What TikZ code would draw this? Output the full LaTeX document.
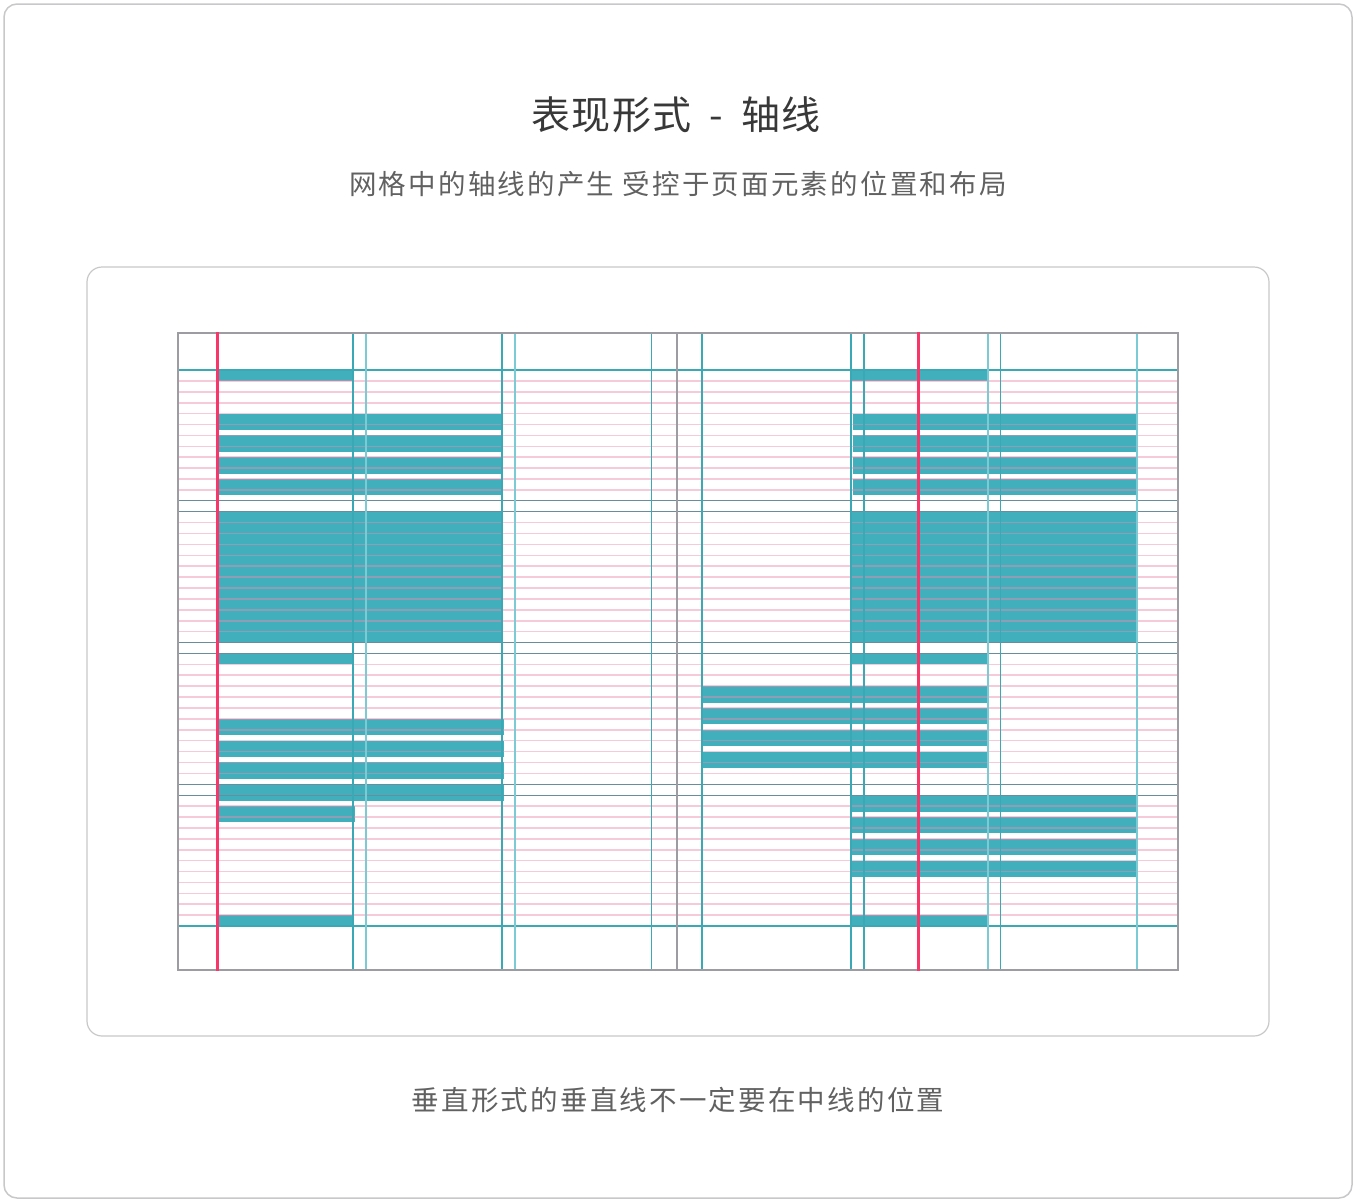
\documentclass[tikz,border=0pt]{standalone}
\usepackage{fontspec}
\newfontfamily\cjkfont{Noto Sans CJK SC}
\usetikzlibrary{positioning}
\definecolor{barteal}{HTML}{42AFBD}
\definecolor{gridteal}{HTML}{3AA9B5}
\definecolor{gridtealpale}{HTML}{7CCAD3}
\definecolor{axisred}{HTML}{F7376A}
\definecolor{leadpink}{HTML}{EE8AAA}
\definecolor{rowline}{HTML}{6A8C9C}
\definecolor{framegray}{HTML}{9C9CA2}
\definecolor{cardgray}{HTML}{C8C8CA}
\tikzset{
  card/.style={draw=cardgray, line width=1.5pt, rounded corners=13pt},
  slab/.style={fill=barteal, draw=none},
  leadline/.style={draw=leadpink, line width=1.6pt, opacity=0.45},
  rowrule/.style={draw=rowline, line width=1.1pt},
  colrule/.style={draw=gridteal, line width=1.1pt},
  colpale/.style={draw=gridtealpale, line width=1.4pt},
  axisline/.style={draw=axisred, line width=3pt},
  gridframe/.style={draw=framegray, line width=1.3pt},
  headline/.style={font=\cjkfont\addfontfeatures{LetterSpace=4}\fontsize{39}{44}\selectfont, text=black!78},
  subline/.style={font=\cjkfont\addfontfeatures{LetterSpace=8}\fontsize{27.5}{32}\selectfont, text=black!62}
}
% y of baseline k
\newcommand{\leady}[1]{370+(#1)*10.902}
\begin{document}
\begin{tikzpicture}[x=1pt, y=-1pt]
  \useasboundingbox (0,0) rectangle (1356,1202);
  \draw[card] (4,4) rectangle (1352,1198);
  \draw[card, line width=1.2pt, rounded corners=15pt] (87,267) rectangle (1269,1036);

  \node[headline] (title) at (676,115) {表现形式\hspace{18pt}-\hspace{18pt}轴线};
  \node[subline] (subtitle) at (678,184) {网格中的轴线的产生 受控于页面元素的位置和布局};
  \node[subline] (caption) at (678,1100) {垂直形式的垂直线不一定要在中线的位置};

  % left blocks
  \fill[slab] (219,{\leady{0}}) rectangle (352,{\leady{1}});
  \foreach \k in {4,6,8,10}
    \fill[slab] (219,{\leady{\k}}) rectangle (502.5,{\leady{\k+1.5}});
  \fill[slab] (219,{\leady{13}}) rectangle (501,{\leady{25}});
  \fill[slab] (219,{\leady{26}}) rectangle (353,{\leady{27}});
  \foreach \k in {32,34,36,38}
    \fill[slab] (219,{\leady{\k}}) rectangle (503.5,{\leady{\k+1.5}});
  \fill[slab] (219,{\leady{40}}) rectangle (354.5,{\leady{41.5}});
  \fill[slab] (219,{\leady{50}}) rectangle (353,{\leady{51}});

  % right blocks
  \fill[slab] (851,{\leady{0}}) rectangle (987.5,{\leady{1}});
  \foreach \k in {4,6,8,10}
    \fill[slab] (853,{\leady{\k}}) rectangle (1137.5,{\leady{\k+1.5}});
  \fill[slab] (851,{\leady{13}}) rectangle (1137,{\leady{25}});
  \fill[slab] (851,{\leady{26}}) rectangle (987.5,{\leady{27}});
  \foreach \k in {29,31,33,35}
    \fill[slab] (702.5,{\leady{\k}}) rectangle (988,{\leady{\k+1.5}});
  \foreach \k in {39,41,43,45}
    \fill[slab] (851,{\leady{\k}}) rectangle (1137.5,{\leady{\k+1.5}});
  \fill[slab] (851,{\leady{50}}) rectangle (987,{\leady{51}});

  % baselines
  \foreach \k in {1,...,11,14,15,...,24,27,28,...,37,40,41,...,50}
    \draw[leadline] (178,{\leady{\k}}) -- (1178,{\leady{\k}});
  \foreach \k in {12,13,25,26,38,39}
    \draw[rowrule] (178,{\leady{\k}}) -- (1178,{\leady{\k}});
  \foreach \k in {0,51}
    \draw[colrule] (178,{\leady{\k}}) -- (1178,{\leady{\k}});

  % columns
  \foreach \x in {353,502,651.5,702,851,864,1000.5}
    \draw[colrule] (\x,333) -- (\x,970);
  \foreach \x in {366,515,988,1137}
    \draw[colpale] (\x,333) -- (\x,970);
  \draw[rowrule, draw=framegray] (677,333) -- (677,970);

  \draw[gridframe] (178,333) rectangle (1178,970);

  % axes
  \draw[axisline] (217,332) -- (217,971);
  \draw[axisline] (918.5,332) -- (918.5,971);
\end{tikzpicture}
\end{document}
